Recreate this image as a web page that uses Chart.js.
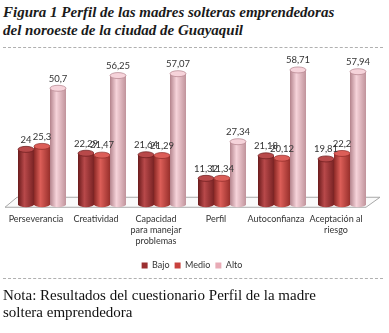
<!DOCTYPE html>
<html>
<head>
<meta charset="utf-8">
<script src="https://cdn.jsdelivr.net/npm/chart.js@4"></script>
<style>
  body { margin:0; background:#fff; width:389px; height:333px; overflow:hidden; }
  #title { position:absolute; left:3px; top:3px; font-family:"Liberation Serif",serif; font-weight:bold; font-style:italic; font-size:15px; line-height:18px; color:#1a1a1a; }
  .rule { position:absolute; left:3px; width:380px; border-top:1px dashed #b0b0b0; }
  #chart { position:absolute; left:0; top:50px; }
  #note { position:absolute; left:3px; top:287px; font-family:"Liberation Serif",serif; font-size:15px; line-height:17px; color:#111; }
</style>
</head>
<body>
<div id="title">Figura 1 Perfil de las madres solteras emprendedoras<br>del noroeste de la ciudad de Guayaquil</div>
<div class="rule" style="top:47px"></div>
<canvas id="chart" width="389" height="230"></canvas>
<div class="rule" style="top:278px"></div>
<div id="note">Nota: Resultados del cuestionario Perfil de la madre<br>soltera emprendedora</div>
<script>
var categorias = [['Perseverancia'], ['Creatividad'], ['Capacidad', 'para manejar', 'problemas'], ['Perfil'], ['Autoconfianza'], ['Aceptación al', 'riesgo']]
var bajo  = [24, 22.29, 21.64, 11.32, 21.18, 19.81]
var medio = [25.3, 21.47, 21.29, 11.34, 20.12, 22.2]
var alto  = [50.7, 56.25, 57.07, 27.34, 58.71, 57.94]
var etiquetas = {
  Bajo:  ['24', '22,29', '21,64', '11,32', '21,18', '19,81'],
  Medio: ['25,3', '21,47', '21,29', '11,34', '20,12', '22,2'],
  Alto:  ['50,7', '56,25', '57,07', '27,34', '58,71', '57,94']
}

// colores de cada cilindro: borde oscuro, brillo, borde
var tonos = [
  ['#6a1b1c', '#b8494a', '#7a2324'],
  ['#8c2926', '#dc5e58', '#98302c'],
  ['#b3838c', '#f6d3da', '#c0939b']
]

var piso = {
  id: 'piso',
  beforeDatasetsDraw(chart) {
    var c = chart.ctx, a = chart.chartArea, b = a.bottom
    c.save()
    c.beginPath()
    c.moveTo(a.left - 7, b + 3)
    c.lineTo(a.right - 6, b + 3)
    c.lineTo(a.right + 8, b - 7)
    c.lineTo(a.left + 5, b - 7)
    c.closePath()
    c.fillStyle = '#fafafa'
    c.fill()
    c.strokeStyle = '#a8a8a8'
    c.lineWidth = 1
    c.stroke()
    c.restore()
  }
}

var cilindros = {
  id: 'cilindros',
  afterDatasetsDraw(chart) {
    var c = chart.ctx
    chart.data.datasets.forEach(function (ds, di) {
      var meta = chart.getDatasetMeta(di)
      var t = tonos[di]
      meta.data.forEach(function (el, i) {
        var l = el.x - el.width / 2, w = el.width, r = w / 2, ry = 3
        var g = c.createLinearGradient(l, 0, l + w, 0)
        g.addColorStop(0, t[0])
        g.addColorStop(0.4, t[1])
        g.addColorStop(1, t[2])
        c.save()
        c.clearRect(l, el.y - ry - 1, w, el.base - el.y + ry + 2)
        c.fillStyle = g
        c.beginPath()
        c.moveTo(l, el.y)
        c.lineTo(l, el.base)
        c.ellipse(el.x, el.base, r, ry, 0, Math.PI, 0, true)
        c.lineTo(l + w, el.y)
        c.closePath()
        c.fill()
        c.beginPath()
        c.ellipse(el.x, el.y, r, ry, 0, 0, Math.PI * 2)
        c.fillStyle = t[1]
        c.fill()
        c.strokeStyle = t[0]
        c.lineWidth = 0.7
        c.stroke()
        c.restore()
      })
    })
    // valores
    c.save()
    c.font = '9.5px Lato, sans-serif'
    c.fillStyle = '#333'
    c.textAlign = 'center'
    c.textBaseline = 'bottom'
    chart.data.datasets.forEach(function (ds, di) {
      var meta = chart.getDatasetMeta(di)
      meta.data.forEach(function (el, i) {
        c.fillText(etiquetas[ds.label][i], el.x, el.y - 5)
      })
    })
    c.restore()
  }
}

new Chart(document.getElementById('chart'), {
  type: 'bar',
  data: {
    labels: categorias,
    datasets: [
      { label: 'Bajo', data: bajo, backgroundColor: '#9b2f30' },
      { label: 'Medio', data: medio, backgroundColor: '#c8413d' },
      { label: 'Alto', data: alto, backgroundColor: '#e8abb6' }
    ]
  },
  options: {
    responsive: false,
    animation: false,
    layout: { padding: { top: 17, left: 12, right: 17, bottom: 0 } },
    datasets: { bar: { categoryPercentage: 0.8, barPercentage: 1 } },
    scales: {
      y: { display: false, min: 0, max: 60 },
      x: {
        grid: { display: false, drawTicks: false },
        border: { display: false },
        ticks: { color: '#333', font: { family: 'Lato', size: 9, lineHeight: 1.25 }, padding: 9, labelOffset: -6, maxRotation: 0, autoSkip: false }
      }
    },
    plugins: {
      legend: {
        position: 'bottom',
        labels: { boxWidth: 6, boxHeight: 6, padding: 5, color: '#333', font: { family: 'Lato', size: 9 } }
      },
      tooltip: { enabled: false }
    }
  },
  plugins: [piso, cilindros]
})
</script>
</body>
</html>
